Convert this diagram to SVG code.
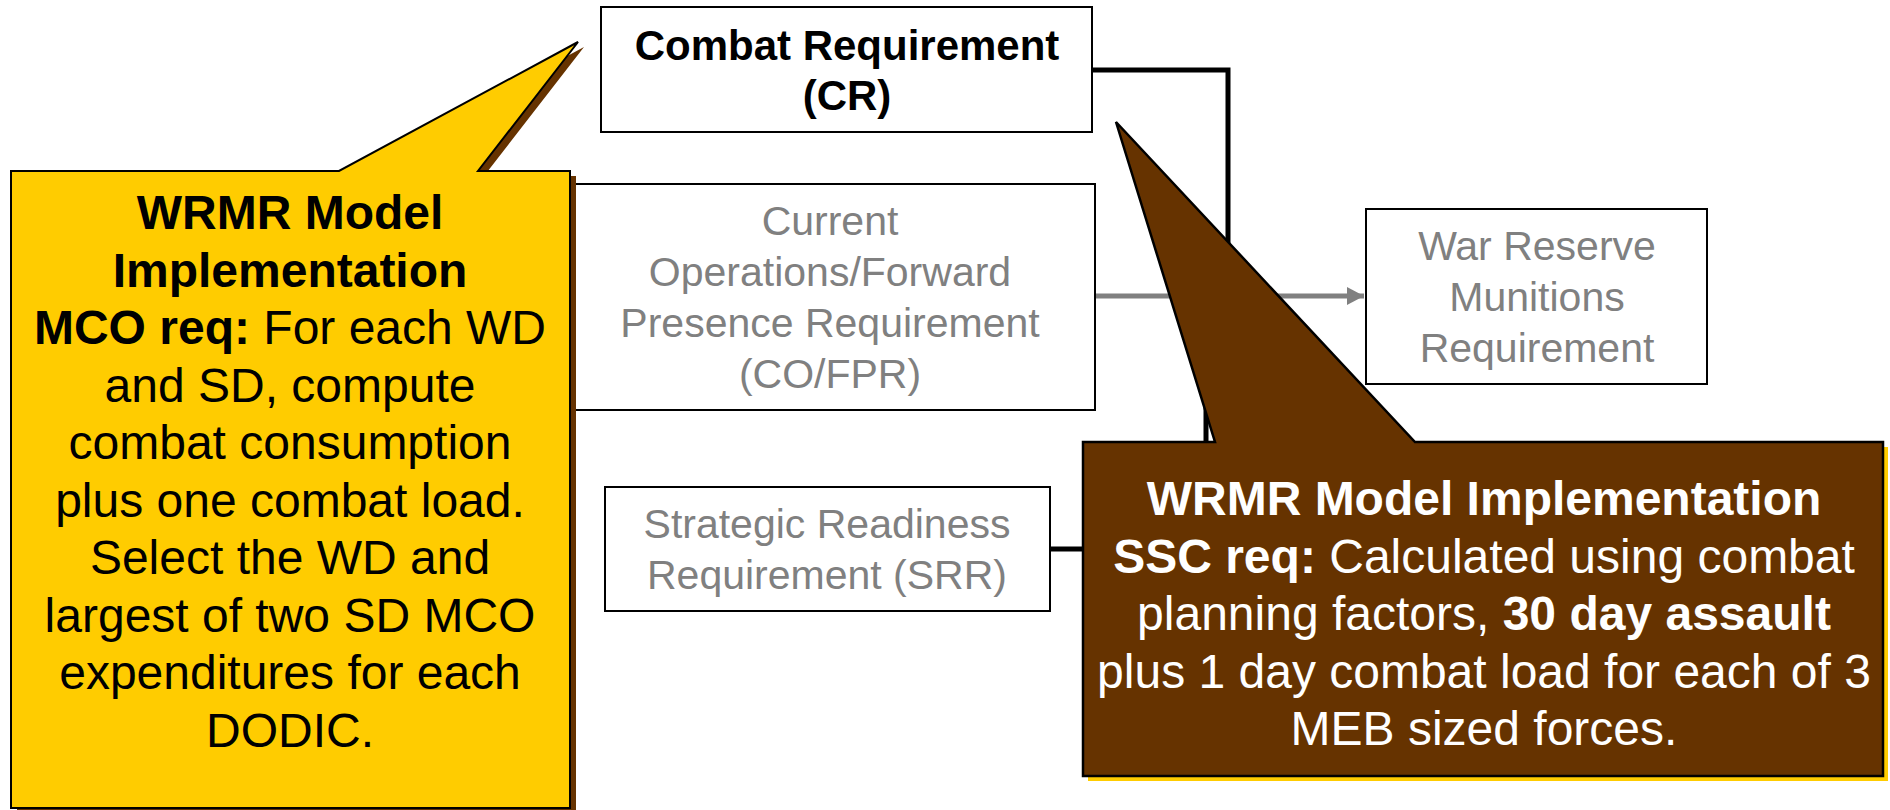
<svg xmlns="http://www.w3.org/2000/svg" width="1890" height="810" viewBox="0 0 1890 810">
<style>
.box{fill:#fff;stroke:#000;stroke-width:2}
.t{font-family:"Liberation Sans",Arial,sans-serif;text-anchor:middle}
.cr{font-size:42px;font-weight:bold;fill:#000}
.g{font-size:41px;fill:#808080}
.y{font-size:48px;fill:#000}
.w{font-size:48px;fill:#fff}
.b{font-weight:bold}
.blk{fill:none;stroke:#000;stroke-width:5}
.gry{fill:none;stroke:#808080;stroke-width:5}
</style>
<defs>
<marker id="ah" markerUnits="userSpaceOnUse" markerWidth="18" markerHeight="20" refX="17" refY="9" orient="auto">
<polygon points="0,0 17,9 0,18" fill="#808080"/>
</marker>
</defs>
<rect width="1890" height="810" fill="#fff"/>
<g id="connectors">
<path class="blk" d="M1092,70 H1228 V296"/>
<path class="blk" d="M1050,549 H1206 V296"/>
<path class="gry" d="M1095,296 H1364" marker-end="url(#ah)"/>
</g>
<g id="cr">
<rect class="box" x="601" y="7" width="491" height="125"/>
<text class="t cr" x="847" y="60">Combat Requirement</text>
<text class="t cr" x="847" y="110">(CR)</text>
</g>
<g id="cofpr">
<rect class="box" x="565" y="184" width="530" height="226"/>
<text class="t g" x="830" y="235">Current</text>
<text class="t g" x="830" y="286">Operations/Forward</text>
<text class="t g" x="830" y="337">Presence Requirement</text>
<text class="t g" x="830" y="388">(CO/FPR)</text>
</g>
<g id="srr">
<rect class="box" x="605" y="487" width="445" height="124"/>
<text class="t g" x="827" y="538">Strategic Readiness</text>
<text class="t g" x="827" y="589">Requirement (SRR)</text>
</g>
<g id="wrmr">
<rect class="box" x="1366" y="209" width="341" height="175"/>
<text class="t g" x="1537" y="260">War Reserve</text>
<text class="t g" x="1537" y="311">Munitions</text>
<text class="t g" x="1537" y="362">Requirement</text>
</g>
<g id="mco-callout">
<path d="M11,171 H339 L578,42 L478,171 H570 V808 H11 Z" fill="#663300" transform="translate(6,5)"/>
<path d="M11,171 H339 L578,42 L478,171 H570 V808 H11 Z" fill="#FFCC00" stroke="#000" stroke-width="2"/>
<text class="t y" x="290" y="229"><tspan class="b">WRMR Model</tspan></text>
<text class="t y" x="290" y="286.5"><tspan class="b">Implementation</tspan></text>
<text class="t y" x="290" y="344"><tspan class="b">MCO req:</tspan> For each WD</text>
<text class="t y" x="290" y="401.5">and SD, compute</text>
<text class="t y" x="290" y="459">combat consumption</text>
<text class="t y" x="290" y="516.5">plus one combat load.</text>
<text class="t y" x="290" y="574">Select the WD and</text>
<text class="t y" x="290" y="631.5">largest of two SD MCO</text>
<text class="t y" x="290" y="689">expenditures for each</text>
<text class="t y" x="290" y="746.5">DODIC.</text>
</g>
<g id="ssc-callout">
<rect x="1088" y="447" width="800" height="334" fill="#FFCC00"/>
<path d="M1083,442 H1215 L1116,122 L1415,442 H1883 V776 H1083 Z" fill="#663300" stroke="#000" stroke-width="2.5"/>
<text class="t w" x="1484" y="515"><tspan class="b">WRMR Model Implementation</tspan></text>
<text class="t w" x="1484" y="572.5"><tspan class="b">SSC req:</tspan> Calculated using combat</text>
<text class="t w" x="1484" y="630">planning factors, <tspan class="b">30 day assault</tspan></text>
<text class="t w" x="1484" y="687.5">plus 1 day combat load for each of 3</text>
<text class="t w" x="1484" y="745">MEB sized forces.</text>
</g>
</svg>
